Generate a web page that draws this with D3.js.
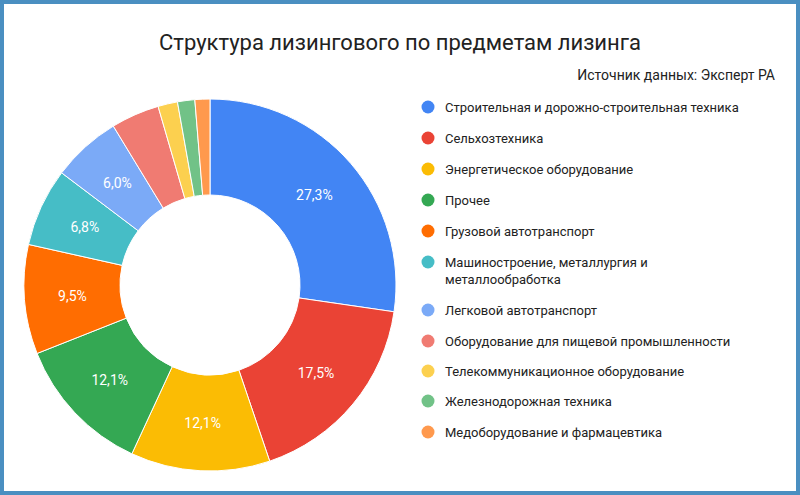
<!DOCTYPE html>
<html><head><meta charset="utf-8">
<script src="https://cdn.jsdelivr.net/npm/d3@7"></script>
<style>body{margin:0}svg{font-family:Roboto,Arial,sans-serif}</style>
</head><body><svg id="chart" width="800" height="495"></svg>
<script>
// data
var categories = ["Строительная и дорожно-строительная техника", "Сельхозтехника", "Энергетическое оборудование",
  "Прочее", "Грузовой автотранспорт", "Машиностроение, металлургия и|металлообработка", "Легковой автотранспорт",
  "Оборудование для пищевой промышленности", "Телекоммуникационное оборудование", "Железнодорожная техника",
  "Медоборудование и фармацевтика"]
var shares = [27.3, 17.5, 12.1, 12.1, 9.5, 6.8, 6.0, 4.2, 1.7, 1.5, 1.3]
var colors = ["#4285f4", "#ea4335", "#fbbc04", "#34a853", "#ff6d01", "#46bdc6", "#7baaf7", "#f07b72", "#fcd04f", "#71c287", "#ff994d"]

var svg = d3.select('#chart')
svg.append('rect').attr('x', 2).attr('y', 2).attr('width', 796).attr('height', 491)
  .attr('fill', '#fff').attr('stroke', '#4a8fc1').attr('stroke-width', 4)

svg.append('text').attr('x', 400).attr('y', 50).attr('text-anchor', 'middle')
  .style('font-size', '22px').attr('fill', '#222').text('Структура лизингового по предметам лизинга')
svg.append('text').attr('x', 775).attr('y', 80).attr('text-anchor', 'end')
  .style('font-size', '14px').attr('fill', '#222').text('Источник данных: Эксперт РА')

var cx = 210, cy = 285, R = 186, r = 90
var pie = d3.pie().sort(null).value(function(d) { return d })
var arc = d3.arc().innerRadius(r).outerRadius(R)
var g = svg.append('g').attr('transform', 'translate(' + cx + ',' + cy + ')')
var arcs = pie(shares)
g.selectAll('path').data(arcs).enter().append('path')
  .attr('d', arc).attr('fill', function(d, i) { return colors[i] })
  .attr('stroke', '#fff').attr('stroke-width', 1)

var labelArc = d3.arc().innerRadius((R + r) / 2).outerRadius((R + r) / 2)
g.selectAll('text').data(arcs.filter(function(d) { return d.data >= 5 })).enter().append('text')
  .attr('transform', function(d) { return 'translate(' + labelArc.centroid(d) + ')' })
  .attr('text-anchor', 'middle').attr('dy', '0.35em')
  .style('font-size', '14px').attr('fill', '#fff')
  .text(function(d) { return d.data.toFixed(1).replace('.', ',') + '%' })

// legend
var ly = [107, 138, 169, 200, 231, 262, 310, 341, 371, 401, 432]
var leg = svg.append('g')
categories.forEach(function(c, i) {
  leg.append('circle').attr('cx', 428).attr('cy', ly[i]).attr('r', 6.5).attr('fill', colors[i])
  var t = leg.append('text').attr('x', 445).attr('y', ly[i])
    .style('font-size', '13px').attr('fill', '#222')
  c.split('|').forEach(function(line, k) {
    t.append('tspan').attr('x', 445).attr('dy', k ? '17px' : '0.35em').text(line)
  })
})
</script></body></html>
